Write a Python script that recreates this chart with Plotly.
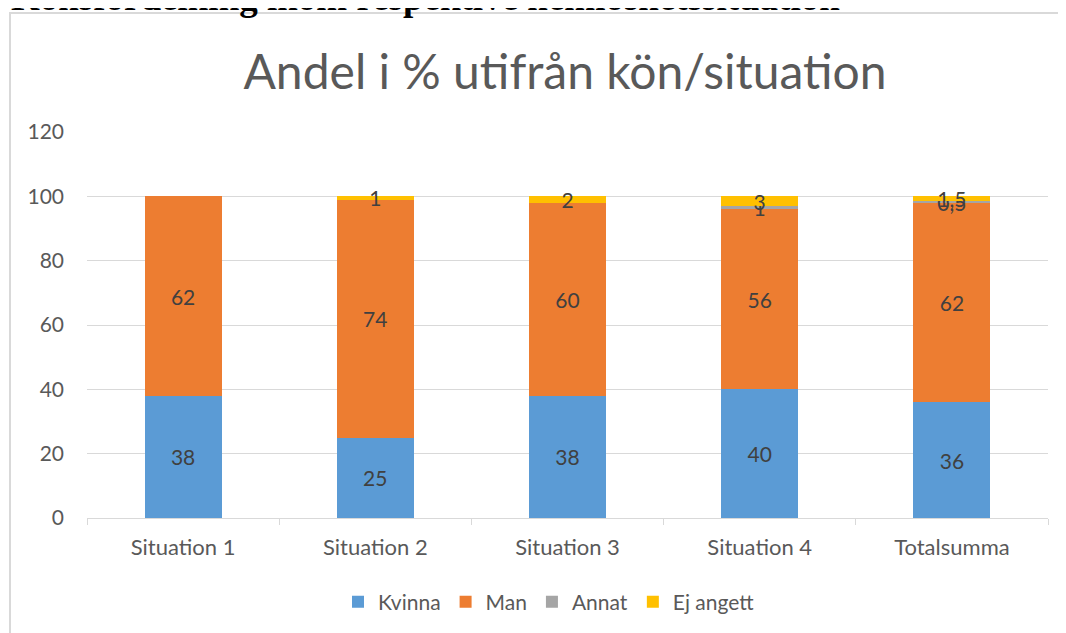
import plotly.graph_objects as go

categories = ["Situation 1", "Situation 2", "Situation 3", "Situation 4", "Totalsumma"]
kvinna = [38, 25, 38, 40, 36]
man = [62, 74, 60, 56, 62]
annat = [None, None, None, 1, 0.5]
ej_angett = [None, 1, 2, 3, 1.5]

series = [
    ("Kvinna", kvinna, "#5B9BD5"),
    ("Man", man, "#ED7D31"),
    ("Annat", annat, "#A5A5A5"),
    ("Ej angett", ej_angett, "#FFC000"),
]

def fmt(v):
    if v is None:
        return ""
    return ("%g" % v).replace(".", ",")

FONT = "Lato"
fig = go.Figure()
for name, vals, col in series:
    fig.add_trace(go.Bar(
        x=categories, y=vals, name=name, marker_color=col,
        marker_line_width=0,
        text=[fmt(v) for v in vals], textposition="inside",
        insidetextanchor="middle", textangle=0,
        textfont=dict(family=FONT, size=21, color="#404040"),
        cliponaxis=False,
    ))

OFF = 8  # page body margin
W, H = 1066, 633
L, T = 87 - OFF, 132 - OFF
pw, ph = 961, 386
R = W - L - pw
B = H - T - ph

def px(x):  # page pixel -> paper x
    return (x - OFF - L) / pw

def py(y):  # page pixel -> paper y
    return (T + ph - (y - OFF)) / ph

fig.update_layout(
    width=W, height=H,
    barmode="stack", bargap=0.6,
    margin=dict(l=L, r=R, t=T, b=B, pad=0),
    paper_bgcolor="white", plot_bgcolor="white",
    uniformtext=dict(minsize=21, mode="show"),
    title=dict(text="Andel i % utifrån kön/situation", x=(565 - OFF) / W, xanchor="center",
               y=1 - (72 - OFF) / H, yanchor="middle", yref="container",
               font=dict(family=FONT, size=48, color="#595959")),
    xaxis=dict(showgrid=False, showline=True, linecolor="#D9D9D9", linewidth=1,
               ticks="outside", tickson="boundaries", ticklen=6, tickcolor="#D9D9D9",
               ticklabelstandoff=10,
               tickfont=dict(family=FONT, size=22, color="#595959")),
    yaxis=dict(range=[0, 120], dtick=20, showgrid=True, gridcolor="#D9D9D9", gridwidth=1,
               zeroline=False, showline=False, ticks="", ticklabelstandoff=22,
               tickfont=dict(family=FONT, size=21, color="#595959")),
    legend=dict(orientation="h", x=px(549), xanchor="center", y=py(602), yanchor="middle",
                font=dict(family=FONT, size=21, color="#595959"), traceorder="normal",
                itemclick=False),
    showlegend=True,
    shapes=[dict(type="rect", xref="paper", yref="paper",
                 x0=px(10), x1=px(1080), y0=py(700), y1=py(13),
                 line=dict(color="#D9D9D9", width=2), fillcolor="rgba(0,0,0,0)", layer="below")],
    annotations=[dict(text="<b>Könsfördelning inom respektive hemlöshetssituation</b>",
                      xref="paper", yref="paper", x=px(10), xanchor="left",
                      y=py(19), yanchor="bottom", showarrow=False, borderpad=0,
                      font=dict(family="Liberation Serif", size=37, color="black"))],
)

fig.write_html("out.html")
